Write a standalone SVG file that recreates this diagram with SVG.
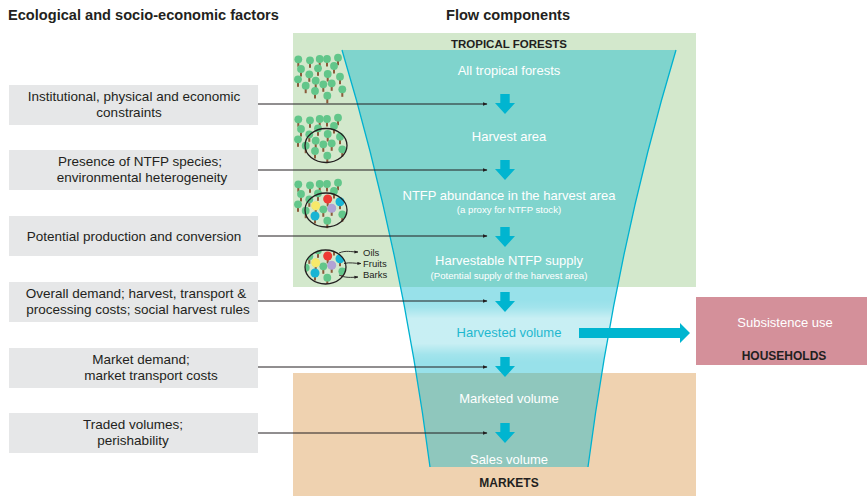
<svg xmlns="http://www.w3.org/2000/svg" xmlns:xlink="http://www.w3.org/1999/xlink" width="867" height="496" viewBox="0 0 867 496">
  <style>
    text { font-family: "Liberation Sans", Arial, sans-serif; }
    .hdr { font-size: 14.6px; font-weight: bold; fill: #231f20; }
    .zone { font-size: 12px; font-weight: bold; fill: #231f20; text-anchor: middle; }
    .factor { fill: #e6e7e8; }
    .ftxt { font-size: 13.5px; fill: #231f20; text-anchor: middle; }
    .flow { font-size: 13px; fill: #ffffff; text-anchor: middle; }
    .sub { font-size: 9.6px; fill: #ffffff; text-anchor: middle; }
    .link { stroke: #231f20; stroke-width: 1; fill: none; marker-end: url(#tip); }
    .small { stroke: #231f20; stroke-width: 0.9; fill: none; marker-end: url(#tipS); }
    .edge { stroke: #00b2d0; stroke-width: 1.3; fill: none; }
    .down { fill: #00b5d0; }
    .leaf { fill: #62c68a; }
    .trunk { fill: #8b5a3a; }
    .ring { fill: none; stroke: #231f20; stroke-width: 1.3; }
    .prod { font-size: 9.5px; fill: #231f20; }
  </style>
  <defs>
    <marker id="tip" viewBox="0 0 10 10" refX="9" refY="5" markerWidth="5" markerHeight="5" orient="auto" markerUnits="userSpaceOnUse">
      <path d="M0,1 L10,5 L0,9 Z" fill="#231f20"/>
    </marker>
    <marker id="tipS" viewBox="0 0 10 10" refX="9" refY="5" markerWidth="4" markerHeight="4" orient="auto" markerUnits="userSpaceOnUse">
      <path d="M0,1 L10,5 L0,9 Z" fill="#231f20"/>
    </marker>
    <path id="down" class="down" d="M-4.7,0 H4.7 V9 H10 L0,20 L-10,9 H-4.7 Z"/>
    <clipPath id="funnelClip">
      <path d="M342,50 Q401.7,249 430,467 L588,467 Q616.3,249 676,50 Z"/>
    </clipPath>
    <clipPath id="sampleClip">
      <ellipse cx="325.5" cy="267" rx="20.5" ry="17"/>
    </clipPath>
    <linearGradient id="band" x1="0" y1="300" x2="0" y2="362" gradientUnits="userSpaceOnUse">
      <stop offset="0" stop-color="#ffffff" stop-opacity="0"/>
      <stop offset="0.12" stop-color="#ffffff" stop-opacity="0.1"/>
      <stop offset="0.3" stop-color="#ffffff" stop-opacity="0.47"/>
      <stop offset="0.7" stop-color="#ffffff" stop-opacity="0.47"/>
      <stop offset="0.88" stop-color="#ffffff" stop-opacity="0.1"/>
      <stop offset="1" stop-color="#ffffff" stop-opacity="0"/>
    </linearGradient>
    <!-- one tree: crown with trunk -->
    <g id="t">
      <rect class="trunk" x="-1" y="1.5" width="2" height="6"/>
      <circle class="leaf" r="3.9"/>
    </g>
    <!-- a patch of forest -->
    <g id="forest">
      <use xlink:href="#t" x="298.3" y="59.3"/>
      <use xlink:href="#t" x="310" y="60.3"/>
      <use xlink:href="#t" x="319.7" y="59"/>
      <use xlink:href="#t" x="327" y="59"/>
      <use xlink:href="#t" x="338" y="57.7"/>
      <use xlink:href="#t" x="301" y="69"/>
      <use xlink:href="#t" x="318" y="68.3"/>
      <use xlink:href="#t" x="334" y="66"/>
      <use xlink:href="#t" x="309.3" y="74.3"/>
      <use xlink:href="#t" x="327.7" y="74"/>
      <use xlink:href="#t" x="340" y="76.7"/>
      <use xlink:href="#t" x="298" y="79.3"/>
      <use xlink:href="#t" x="315.7" y="80.7"/>
      <use xlink:href="#t" x="331.7" y="83.3"/>
      <use xlink:href="#t" x="323.3" y="84.3"/>
      <use xlink:href="#t" x="305.7" y="85.7"/>
      <use xlink:href="#t" x="342.3" y="89.3"/>
      <use xlink:href="#t" x="315" y="91"/>
      <use xlink:href="#t" x="327.3" y="95.7"/>
    </g>
    <!-- forest with NTFP species highlighted -->
    <g id="forestNtfp">
      <use xlink:href="#forest"/>
      <circle cx="327.7" cy="74" r="4.5" fill="#ee3b35"/>
      <circle cx="340" cy="76.7" r="4.5" fill="#18b4d4"/>
      <circle cx="315.7" cy="80.7" r="4.5" fill="#f7e96a"/>
      <circle cx="331.7" cy="83.3" r="4.5" fill="#b1a3d4"/>
      <circle cx="315" cy="91" r="4.5" fill="#18b4d4"/>
    </g>
  </defs>

  <!-- backgrounds -->
  <rect x="293" y="33" width="403" height="254" fill="#d3e8cc"/>
  <rect x="293" y="373" width="403" height="123" fill="#efd2b0"/>

  <!-- headings -->
  <text class="hdr" x="8" y="20">Ecological and socio-economic factors</text>
  <text class="hdr" x="508" y="20" text-anchor="middle">Flow components</text>
  <text class="zone" x="509" y="48" style="font-size:11.5px">TROPICAL FORESTS</text>
  <text class="zone" x="509" y="487">MARKETS</text>

  <!-- tree illustrations -->
  <g id="forest-all">
    <use xlink:href="#forest"/>
  </g>
  <g id="forest-harvest">
    <use xlink:href="#forest" transform="translate(0,60)"/>
    <ellipse class="ring" cx="326" cy="145.5" rx="21" ry="17"/>
  </g>
  <g id="forest-ntfp">
    <use xlink:href="#forestNtfp" transform="translate(0,125)"/>
    <ellipse class="ring" cx="326" cy="210" rx="21" ry="17"/>
  </g>
  <g id="forest-products">
    <g clip-path="url(#sampleClip)">
      <use xlink:href="#forestNtfp" transform="translate(0,182)"/>
    </g>
    <ellipse class="ring" cx="325.5" cy="267" rx="20.5" ry="17"/>
    <path class="small" d="M339,253 C346,250 351,252 358,252"/>
    <path class="small" d="M344,263.5 C350,262 355,263.5 361,263.5"/>
    <path class="small" d="M339,275 C345,278 351,277.5 358,277"/>
    <text class="prod" x="363" y="255.5">Oils</text>
    <text class="prod" x="363" y="266.5">Fruits</text>
    <text class="prod" x="363" y="277.5">Barks</text>
  </g>

  <!-- funnel -->
  <g id="funnel">
    <path d="M342,50 Q401.7,249 430,467 L588,467 Q616.3,249 676,50 Z" fill="#10bacf" fill-opacity="0.43"/>
    <rect x="380" y="300" width="260" height="62" fill="url(#band)" clip-path="url(#funnelClip)"/>
    <path class="edge" d="M342,50 Q401.7,249 430,467"/>
    <path class="edge" d="M676,50 Q616.3,249 588,467"/>
  </g>

  <!-- flow stages -->
  <g id="stage-forests"><text class="flow" x="509" y="75">All tropical forests</text></g>
  <g id="stage-harvest"><text class="flow" x="509" y="141">Harvest area</text></g>
  <g id="stage-abundance">
    <text class="flow" x="509" y="200">NTFP abundance in the harvest area</text>
    <text class="sub" x="509" y="213">(a proxy for NTFP stock)</text>
  </g>
  <g id="stage-supply">
    <text class="flow" x="509" y="265">Harvestable NTFP supply</text>
    <text class="sub" x="509" y="279">(Potential supply of the harvest area)</text>
  </g>
  <g id="stage-harvested"><text class="flow" x="509" y="337" style="fill:#1fb8cf">Harvested volume</text></g>
  <g id="stage-marketed"><text class="flow" x="509" y="403">Marketed volume</text></g>
  <g id="stage-sales"><text class="flow" x="509" y="464">Sales volume</text></g>

  <!-- households -->
  <g id="households">
    <rect x="696" y="297" width="171" height="68" fill="#d4909a"/>
    <text class="flow" x="785" y="327">Subsistence use</text>
    <text class="zone" x="784" y="360">HOUSEHOLDS</text>
  </g>

  <!-- factor boxes -->
  <g id="factor-1">
    <rect class="factor" x="9" y="85" width="249" height="40"/>
    <text class="ftxt" x="134" y="101">Institutional, physical and economic</text>
    <text class="ftxt" x="129" y="117">constraints</text>
  </g>
  <g id="factor-2">
    <rect class="factor" x="9" y="150" width="249" height="40"/>
    <text class="ftxt" x="140" y="166">Presence of NTFP species;</text>
    <text class="ftxt" x="142" y="182">environmental heterogeneity</text>
  </g>
  <g id="factor-3">
    <rect class="factor" x="9" y="216" width="249" height="40"/>
    <text class="ftxt" x="134" y="241">Potential production and conversion</text>
  </g>
  <g id="factor-4">
    <rect class="factor" x="9" y="282" width="249" height="40"/>
    <text class="ftxt" x="136" y="298">Overall demand; harvest, transport &amp;</text>
    <text class="ftxt" x="138" y="314">processing costs; social harvest rules</text>
  </g>
  <g id="factor-5">
    <rect class="factor" x="9" y="348" width="249" height="40"/>
    <text class="ftxt" x="141" y="364">Market demand;</text>
    <text class="ftxt" x="151" y="380">market transport costs</text>
  </g>
  <g id="factor-6">
    <rect class="factor" x="9" y="413" width="249" height="40"/>
    <text class="ftxt" x="133" y="429">Traded volumes;</text>
    <text class="ftxt" x="133" y="445">perishability</text>
  </g>

  <!-- connectors -->
  <g id="connectors">
    <line class="link" x1="258" y1="104" x2="487" y2="104"/>
    <line class="link" x1="258" y1="170" x2="487" y2="170"/>
    <line class="link" x1="258" y1="236" x2="487" y2="236"/>
    <line class="link" x1="258" y1="301" x2="487" y2="301"/>
    <line class="link" x1="258" y1="367" x2="487" y2="367"/>
    <line class="link" x1="258" y1="433" x2="487" y2="433"/>
    <use xlink:href="#down" x="505" y="94"/>
    <use xlink:href="#down" x="505" y="160"/>
    <use xlink:href="#down" x="505" y="227"/>
    <use xlink:href="#down" x="505" y="292"/>
    <use xlink:href="#down" x="505" y="357"/>
    <use xlink:href="#down" x="505" y="423"/>
    <polygon class="down" points="579,328 680,328 680,323 690,333 680,343 680,338 579,338"/>
  </g>
</svg>
